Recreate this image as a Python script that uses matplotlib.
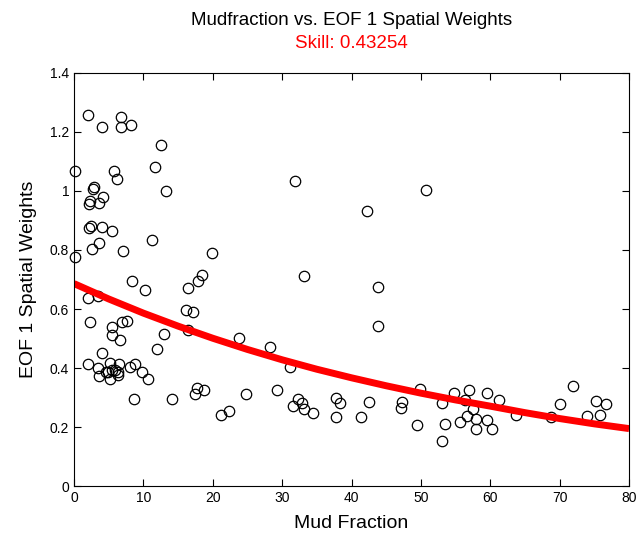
import matplotlib
matplotlib.use('Agg')
import matplotlib.pyplot as plt

plt.rcParams['font.family'] = ['Liberation Sans', 'DejaVu Sans']

# Scatter data (mud fraction, EOF 1 weight)
mud = [
    2.07, 4.03, 6.8, 6.8, 8.2, 12.6, 0.1, 5.76, 6.2, 11.7,
    13.3, 2.93, 2.78, 2.16, 2.3, 3.6, 4.2, 2.16, 2.45, 4.0,
    5.5, 2.55, 3.6, 7.0, 11.3, 0.1, 19.9, 18.4, 8.3, 10.3,
    17.9, 16.5, 2.0, 3.4, 2.35, 5.5, 5.5, 6.9, 7.6, 6.6,
    16.1, 17.2, 16.4, 13.0, 11.9, 23.8, 4.0, 2.07, 3.4, 3.6,
    5.2, 6.5, 8.8, 8.07, 4.57, 4.95, 5.43, 5.9, 6.4, 6.4,
    5.2, 9.75, 10.7, 8.7, 14.1, 17.7, 17.5, 18.7, 21.2, 22.4,
    24.8, 31.9, 50.8, 42.3, 33.2, 43.8, 43.8, 28.3, 31.2, 29.3,
    32.3, 31.5, 32.9, 33.2, 34.4, 37.8, 38.4, 37.7, 42.5, 41.4,
    47.3, 47.2, 49.8, 49.5, 53.0, 53.5, 53.0, 54.7, 56.9, 59.5,
    56.3, 61.3, 57.5, 56.7, 58.0, 59.5, 55.6, 58.0, 60.2, 63.7,
    68.7, 70.0, 71.9, 73.9, 75.3, 76.7, 75.8,
]
weights = [
    1.258, 1.218, 1.249, 1.215, 1.224, 1.154, 1.066, 1.066, 1.040, 1.080,
    0.999, 1.012, 1.007, 0.956, 0.967, 0.958, 0.978, 0.875, 0.880, 0.877,
    0.863, 0.804, 0.823, 0.796, 0.833, 0.777, 0.790, 0.714, 0.694, 0.663,
    0.695, 0.672, 0.638, 0.643, 0.555, 0.540, 0.513, 0.555, 0.561, 0.494,
    0.595, 0.591, 0.528, 0.516, 0.466, 0.503, 0.452, 0.413, 0.401, 0.372,
    0.417, 0.415, 0.413, 0.403, 0.387, 0.387, 0.392, 0.392, 0.387, 0.375,
    0.364, 0.387, 0.364, 0.295, 0.295, 0.331, 0.311, 0.325, 0.242, 0.256,
    0.311, 1.033, 1.002, 0.932, 0.711, 0.676, 0.542, 0.470, 0.402, 0.325,
    0.295, 0.272, 0.282, 0.261, 0.248, 0.300, 0.282, 0.234, 0.286, 0.234,
    0.285, 0.266, 0.330, 0.206, 0.282, 0.212, 0.152, 0.317, 0.326, 0.317,
    0.293, 0.291, 0.263, 0.237, 0.226, 0.223, 0.217, 0.195, 0.195, 0.240,
    0.234, 0.277, 0.338, 0.238, 0.287, 0.277, 0.242,
]

# Fitted curve, sampled off the red line every 5 units
fit_x = [0, 5, 10, 15, 20, 25, 30, 35, 40, 45, 50, 55, 60, 65, 70, 75, 80]
fit_y = [0.686, 0.634, 0.586, 0.542, 0.501, 0.463, 0.428, 0.396, 0.367,
         0.340, 0.315, 0.292, 0.271, 0.249, 0.229, 0.211, 0.195]

fig = plt.figure(figsize=(6.38, 5.39), dpi=100)
ax = fig.add_axes([0.116, 0.098, 0.870, 0.767])

ax.plot(mud, weights, 'o', markerfacecolor='none', markeredgecolor='black',
        markersize=7.5, markeredgewidth=0.9, clip_on=False)
ax.plot(fit_x, fit_y, color='red', linewidth=5, solid_capstyle='butt')

ax.set_xlim(0, 80)
ax.set_ylim(0, 1.4)
ax.set_xticks(range(0, 81, 10))
ax.set_yticks([0, 0.2, 0.4, 0.6, 0.8, 1.0, 1.2, 1.4])
ax.set_yticklabels(['0', '0.2', '0.4', '0.6', '0.8', '1', '1.2', '1.4'])
ax.tick_params(direction='in', top=True, right=True, length=5,
               labelsize=10, width=0.8)

ax.set_xlabel('Mud Fraction', fontsize=14, labelpad=7)
ax.set_ylabel('EOF 1 Spatial Weights', fontsize=14, labelpad=9)

fig.text(0.551, 0.962, 'Mudfraction vs. EOF 1 Spatial Weights',
         ha='center', va='center', fontsize=13.5)
fig.text(0.551, 0.920, 'Skill: 0.43254', color='red',
         ha='center', va='center', fontsize=13.5)

fig.savefig('out.png', dpi=100)
